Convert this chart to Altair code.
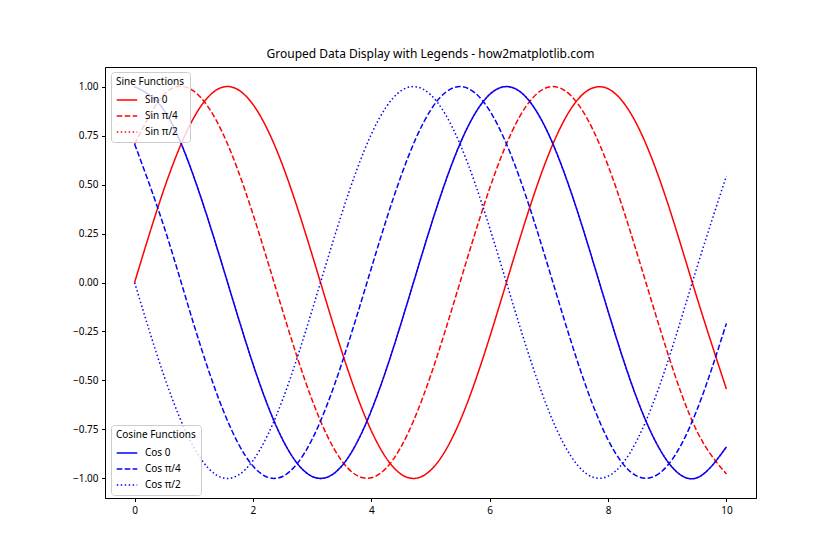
import altair as alt
import pandas as pd

# x positions
x_vals = [0.0, 0.5, 1.0, 1.5, 2.0, 2.5, 3.0, 3.5, 4.0, 4.5, 5.0,
          5.5, 6.0, 6.5, 7.0, 7.5, 8.0, 8.5, 9.0, 9.5, 10.0]

# Sine group
sin_0 = [0.000, 0.479, 0.841, 0.998, 0.909, 0.599, 0.141, -0.351, -0.757, -0.978, -0.959,
         -0.706, -0.279, 0.215, 0.657, 0.938, 0.989, 0.799, 0.412, -0.075, -0.544]
sin_pi4 = [0.707, 0.960, 0.977, 0.755, 0.349, -0.143, -0.600, -0.910, -0.997, -0.840, -0.477,
           0.002, 0.481, 0.843, 0.998, 0.908, 0.597, 0.139, -0.353, -0.758, -0.978]
sin_pi2 = [1.000, 0.878, 0.540, 0.071, -0.416, -0.801, -0.990, -0.937, -0.654, -0.211, 0.284,
           0.709, 0.960, 0.977, 0.754, 0.347, -0.146, -0.602, -0.911, -0.997, -0.839]

# Cosine group
cos_0 = [1.000, 0.878, 0.540, 0.071, -0.416, -0.801, -0.990, -0.937, -0.654, -0.211, 0.284,
         0.709, 0.960, 0.977, 0.754, 0.347, -0.146, -0.602, -0.911, -0.997, -0.839]
cos_pi4 = [0.707, 0.282, -0.213, -0.655, -0.937, -0.990, -0.800, -0.414, 0.073, 0.542, 0.879,
           1.000, 0.877, 0.539, 0.069, -0.418, -0.803, -0.990, -0.936, -0.652, -0.209]
cos_pi2 = [0.000, -0.479, -0.841, -0.998, -0.909, -0.599, -0.141, 0.351, 0.757, 0.978, 0.959,
           0.706, 0.279, -0.215, -0.657, -0.938, -0.989, -0.799, -0.412, 0.075, 0.544]

sine_names = ["Sin 0", "Sin π/4", "Sin π/2"]
cos_names = ["Cos 0", "Cos π/4", "Cos π/2"]

x_ticks = [0, 2, 4, 6, 8, 10]
y_ticks = [-1.0, -0.75, -0.5, -0.25, 0.0, 0.25, 0.5, 0.75, 1.0]


def long_frame(names, series):
    rows = []
    for name, ys in zip(names, series):
        for xv, yv in zip(x_vals, ys):
            rows.append({"x": xv, "y": yv, "series": name})
    return pd.DataFrame(rows)


sine_df = long_frame(sine_names, [sin_0, sin_pi4, sin_pi2])
cos_df = long_frame(cos_names, [cos_0, cos_pi4, cos_pi2])

dash_range = [[1, 0], [5.55, 2.4], [1.5, 2.475]]

x_enc = alt.X("x:Q", scale=alt.Scale(domain=[-0.5, 10.5], nice=False, zero=False),
              axis=alt.Axis(values=x_ticks, format="d", title=None))
y_enc = alt.Y("y:Q", scale=alt.Scale(domain=[-1.1, 1.1], nice=False, zero=False),
              axis=alt.Axis(values=y_ticks, format=".2f", title=None))


def legend(title, ly):
    return alt.Legend(
        orient="none", legendX=6, legendY=ly, title=title,
        titleFontSize=10, titleFontWeight="normal", titleColor="black",
        labelFontSize=10, labelColor="black",
        symbolType="stroke", symbolSize=420, symbolStrokeWidth=1.5,
        strokeColor="#cccccc", fillColor="rgba(255,255,255,0.8)",
        cornerRadius=3, padding=5, rowPadding=-4, labelOffset=7, titlePadding=2,
    )


def group_layer(df, names, color, title, ly):
    lg = legend(title, ly)
    return alt.Chart(df).mark_line(strokeWidth=1.5, interpolate="natural").encode(
        x=x_enc,
        y=y_enc,
        color=alt.Color("series:N", sort=names,
                        scale=alt.Scale(domain=names, range=[color] * 3), legend=lg),
        strokeDash=alt.StrokeDash("series:N", sort=names,
                                  scale=alt.Scale(domain=names, range=dash_range), legend=lg),
    )


sine_layer = group_layer(sine_df, sine_names, "#ff0000", "Sine Functions", 5)
cos_layer = group_layer(cos_df, cos_names, "#0000ff", "Cosine Functions", 358)

chart = alt.layer(sine_layer, cos_layer).resolve_scale(
    color="independent", strokeDash="independent"
).resolve_legend(
    color="independent", strokeDash="independent"
).properties(
    width=651, height=431,
    title=alt.Title("Grouped Data Display with Legends - how2matplotlib.com",
                    fontSize=12, fontWeight="normal", color="black", offset=6),
    autosize=alt.AutoSizeParams(type="none"),
    padding={"left": 105, "top": 67, "right": 84, "bottom": 62},
).configure(
    font="Noto Sans",
    background="white",
).configure_view(
    stroke="black", strokeWidth=1,
).configure_axis(
    grid=False, domainColor="black", domainWidth=1, tickColor="black", tickWidth=1,
    tickSize=3.5, labelPadding=3.5, labelFontSize=10, labelColor="black",
)

chart.save("out.html", embed_options={"renderer": "svg", "actions": False})
